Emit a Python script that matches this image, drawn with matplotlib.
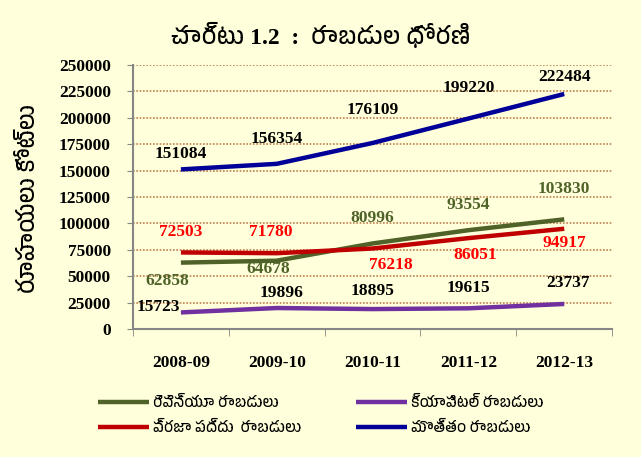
import matplotlib
matplotlib.use("Agg")
import matplotlib.pyplot as plt
from matplotlib import font_manager
import numpy as np

categories = ["2008-09", "2009-10", "2010-11", "2011-12", "2012-13"]
revenue = [62858, 64678, 80996, 93554, 103830]
capital = [15723, 19896, 18895, 19615, 23737]
public_account = [72503, 71780, 76218, 86051, 94917]
total = [151084, 156354, 176109, 199220, 222484]

series_names = ["రెవెన్యూ రాబడులు", "క్యాపిటల్ రాబడులు", "ప్రజా పద్దు  రాబడులు", "మొత్తం రాబడులు"]
title_text = "చార్టు 1.2  :  రాబడుల ధోరణి"
ylabel_text = "రూపాయలు కోట్లు"

# pick a font with Telugu if any
tel_fonts = [f.name for f in font_manager.fontManager.ttflist if "Telugu" in f.name or "Gautami" in f.name or "Pothana" in f.name]
tel_family = ([tel_fonts[0]] if tel_fonts else []) + ["Noto Sans", "DejaVu Sans"]

bg = "#FFFFDB"
fig = plt.figure(figsize=(6.41, 4.57), dpi=100, facecolor=bg)
ax = fig.add_axes([0.2075, 0.28, 0.7475, 0.578], facecolor=bg)

x = np.arange(len(categories))
# label offsets in points (style only)
specs = [
    (revenue, "#4F6228", "#4F6228", [(-10, -13), (-6, -6), (0, 18), (0, 18), (0, 22)], 0),
    (capital, "#7030A0", "black", [(-16.5, 4), (3.5, 11), (0, 13), (0, 14.5), (2.5, 15)], 1),
    (public_account, "#C00000", "red", [(0, 14.5), (-4, 15), (13, -12), (5, -12), (0, -10)], 2),
    (total, "#000099", "black", [(0, 11), (0, 18), (0, 24), (0, 22), (0, 12)], 3),
]
handles = {}
for vals, lc, tc, offs, idx in specs:
    ln, = ax.plot(x, vals, color=lc, lw=3.2, solid_capstyle="butt", label=series_names[idx], zorder=3)
    handles[idx] = ln
    for xi, v, off in zip(x, vals, offs):
        ax.annotate(f"{v}", (xi, v), xytext=off, textcoords="offset points",
                    ha="center", va="center", fontsize=12.5, fontweight="bold",
                    color=tc, family="Liberation Serif", zorder=4)

ax.set_xlim(-0.5, len(categories) - 0.5)
ax.set_ylim(0, 250000)
ax.set_yticks(np.arange(0, 250001, 25000))
ax.set_yticklabels([f"{t}" for t in range(0, 250001, 25000)], family="Liberation Serif",
                   fontweight="bold", fontsize=12.5)
ax.set_xticks(x)
ax.set_xticklabels(categories, family="Liberation Serif", fontweight="bold", fontsize=12.5)
ax.set_xticks(np.arange(-0.5, len(categories)), minor=True)
ax.tick_params(axis="x", which="major", length=0, pad=19)
ax.tick_params(axis="x", which="minor", length=5, color="#868686", direction="out")
ax.tick_params(axis="y", length=4, color="#868686", pad=12)

ax.grid(axis="y", linestyle=(0, (1, 1)), color="#C0804D", lw=1.2, zorder=1)
ax.set_axisbelow(True)
for s in ["top", "right"]:
    ax.spines[s].set_visible(False)
for s in ["left", "bottom"]:
    ax.spines[s].set_color("#868686")
    ax.spines[s].set_linewidth(1.5)

fig.text(0.5, 0.922, title_text, ha="center", va="center", fontsize=17, fontweight="bold",
         family=["Liberation Serif"] + tel_family)
fig.text(0.044, 0.565, ylabel_text, rotation=90, ha="center", va="center", fontsize=16.5,
         family=tel_family)

order = [0, 2, 1, 3]
hl = [handles[i] for i in order]
leg = fig.legend(hl, [h.get_label() for h in hl], loc="center left", ncol=2,
                 bbox_to_anchor=(0.1323, 0.092), frameon=False, handlelength=3.5,
                 handletextpad=0.25, columnspacing=3.8, labelspacing=0.75,
                 prop={"family": tel_family, "size": 10.5})

fig.savefig("out.png", dpi=100, facecolor=bg)
